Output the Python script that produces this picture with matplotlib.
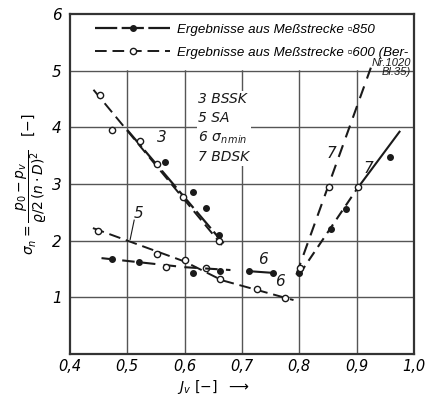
import matplotlib
matplotlib.use("Agg")
import matplotlib.pyplot as plt
from matplotlib.lines import Line2D

# ---- data ----
x_ticks = [0.4, 0.5, 0.6, 0.7, 0.8, 0.9, 1.0]
x_tick_labels = ["0,4", "0,5", "0,6", "0,7", "0,8", "0,9", "1,0"]
y_ticks = [0, 1, 2, 3, 4, 5, 6]
y_tick_labels = ["", "1", "2", "3", "4", "5", "6"]

# curve 3 (BSSK)
c3_850_x = [0.566, 0.615, 0.637, 0.660]
c3_850_y = [3.39, 2.86, 2.57, 2.10]
c3_850_line_x = [0.50, 0.668]
c3_850_line_y = [3.95, 1.95]
c3_600_x = [0.453, 0.473, 0.522, 0.552, 0.597, 0.660]
c3_600_y = [4.57, 3.95, 3.75, 3.35, 2.77, 2.00]
c3_600_line_x = [0.441, 0.665]
c3_600_line_y = [4.66, 1.92]

# curve 5 (SA) / 6 (sigma n min), Messstrecke 600
c5_600_x = [0.449, 0.551, 0.600, 0.638, 0.661, 0.726, 0.776]
c5_600_y = [2.17, 1.76, 1.66, 1.51, 1.32, 1.14, 0.98]
c5_600_line_x = [0.44, 0.60, 0.665, 0.79]
c5_600_line_y = [2.22, 1.63, 1.30, 0.95]

# curve 6, Messstrecke 850
c6_850_x = [0.473, 0.521, 0.615, 0.662, 0.712, 0.754]
c6_850_y = [1.67, 1.62, 1.42, 1.47, 1.46, 1.43]
c6_850_line_x = [0.455, 0.60, 0.68]
c6_850_line_y = [1.69, 1.53, 1.48]
c6_850_seg_x = [0.712, 0.754]
c6_850_seg_y = [1.46, 1.43]
c6_600_extra_x = [0.567]
c6_600_extra_y = [1.53]

# curve 7 (BDSK)
c7_850_x = [0.800, 0.856, 0.882, 0.959]
c7_850_y = [1.42, 2.20, 2.56, 3.48]
c7_850_line_x = [0.80, 0.90]
c7_850_line_y = [1.40, 2.90]
c7_850_solid_x = [0.90, 0.975]
c7_850_solid_y = [2.90, 3.92]
c7_600_x = [0.801, 0.852, 0.903]
c7_600_y = [1.51, 2.94, 2.94]
c7_600_line_x = [0.795, 0.925]
c7_600_line_y = [1.40, 5.05]

ink = "#1a1a1a"

fig = plt.figure(figsize=(4.32, 3.95), dpi=100)
ax = fig.add_axes([0.162, 0.104, 0.796, 0.861])
ax.set_xlim(0.4, 1.0)
ax.set_ylim(0, 6)

# grid and frame
for v in x_ticks[1:-1]:
    ax.axvline(v, color="#555555", lw=1.0, zorder=0)
for v in y_ticks[1:-1]:
    ax.axhline(v, color="#555555", lw=1.0, zorder=0)
# white band behind the legend hides the grid above 5
ax.axhspan(5.03, 6, color="white", zorder=0.5)
for s in ax.spines.values():
    s.set_linewidth(1.6)
    s.set_color("#333333")

long_dash = (0, (6, 3))

# curve 3
ax.plot(c3_850_line_x, c3_850_line_y, color=ink, lw=1.6, ls=(0, (10, 2)))
ax.plot(c3_600_line_x, c3_600_line_y, color=ink, lw=1.4, ls=long_dash)
ax.plot(c3_850_x, c3_850_y, "o", color=ink, ms=4)
ax.plot(c3_600_x, c3_600_y, "o", mfc="white", mec=ink, ms=4.5, mew=1)

# curve 5 / 6
ax.plot(c5_600_line_x, c5_600_line_y, color=ink, lw=1.4, ls=long_dash)
ax.plot(c5_600_x, c5_600_y, "o", mfc="white", mec=ink, ms=4.5, mew=1)
ax.plot(c6_850_line_x, c6_850_line_y, color=ink, lw=1.5, ls=(0, (6, 4)))
ax.plot(c6_850_seg_x, c6_850_seg_y, color=ink, lw=1.5)
ax.plot(c6_850_x, c6_850_y, "o", color=ink, ms=4)
ax.plot(c6_600_extra_x, c6_600_extra_y, "o", mfc="white", mec=ink, ms=4.5, mew=1)

# curve 7
ax.plot(c7_600_line_x, c7_600_line_y, color=ink, lw=1.5, ls=(0, (6, 4)))
ax.plot(c7_850_line_x, c7_850_line_y, color=ink, lw=1.5, ls=(0, (5, 3)))
ax.plot(c7_850_solid_x, c7_850_solid_y, color=ink, lw=1.5)
ax.plot(c7_850_x, c7_850_y, "o", color=ink, ms=4)
ax.plot(c7_600_x, c7_600_y, "o", mfc="white", mec=ink, ms=4.5, mew=1)

# curve labels
lab = dict(fontsize=11, style="italic", color=ink)
ax.text(0.552, 3.74, "3", **lab)
ax.text(0.512, 2.40, "5", **lab)
ax.plot([0.512, 0.505], [2.36, 2.02], color=ink, lw=0.8)
ax.text(0.728, 1.58, "6", **lab)
ax.text(0.757, 1.20, "6", **lab)
ax.text(0.848, 3.45, "7", **lab)
ax.text(0.912, 3.20, "7", **lab)

# key text
ax.text(0.624, 3.98, "3 BSSK\n5 SA\n" + r"6 $\sigma_{n\,min}$" + "\n7 BDSK",
        fontsize=10, style="italic", color=ink, linespacing=1.4,
        va="center", ha="left",
        bbox=dict(facecolor="white", edgecolor="none", pad=1))

# legend
h850 = Line2D([], [], color=ink, lw=1.6, ls=(0, (10, 2)), marker="o", ms=4)
h600 = Line2D([], [], color=ink, lw=1.4, ls=(0, (6, 3)), marker="o",
              mfc="white", mec=ink, ms=4.5)
leg = ax.legend([h850, h600],
                ["Ergebnisse aus Meßstrecke ▫850",
                 "Ergebnisse aus Meßstrecke ▫600 (Ber-"],
                loc="upper left", bbox_to_anchor=(0.045, 1.0),
                handlelength=5.6, handletextpad=0.5, labelspacing=0.8,
                numpoints=1, frameon=False, borderaxespad=0.35,
                prop=dict(family=["Liberation Sans", "DejaVu Sans"],
                          size=9.6, style="italic"))
leg.set_zorder(3)
ax.text(0.995, 5.05, "Nr.1020\nBl.35)", fontsize=8,
        family=["Liberation Sans", "DejaVu Sans"], style="italic",
        color=ink, ha="right", va="center", linespacing=0.95, zorder=4)

# ticks
ax.set_xticks(x_ticks)
ax.set_xticklabels(x_tick_labels, style="italic", fontsize=10.5)
ax.set_yticks(y_ticks)
ax.set_yticklabels(y_tick_labels, style="italic", fontsize=11)
ax.tick_params(axis="x", length=0, pad=4)
ax.tick_params(axis="y", length=0, pad=6)

ax.set_ylabel(r"$\sigma_n = \dfrac{p_0 - p_v}{\varrho/2\,(n\cdot D)^2}$   $[-]$",
              fontsize=10, labelpad=2)
ax.text(0.31, -0.097, r"$J_v\ [-]$  $\longrightarrow$", transform=ax.transAxes,
        fontsize=10, ha="left", va="center", style="italic")

fig.savefig("out.png", dpi=100)
